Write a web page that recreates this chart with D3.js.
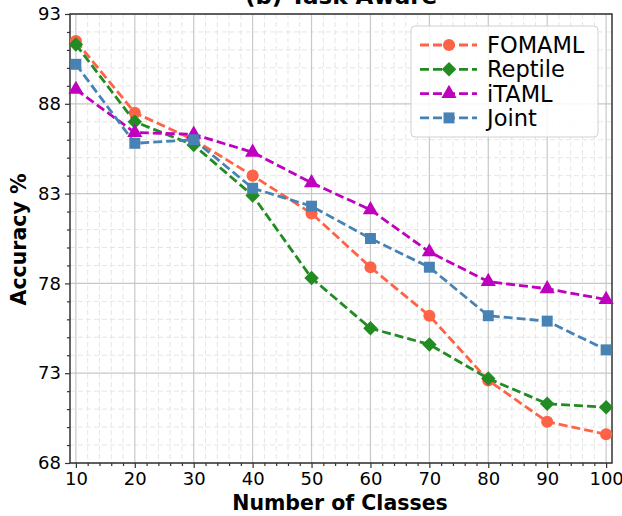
<!DOCTYPE html>
<html>
<head>
<meta charset="utf-8">
<script src="https://cdn.jsdelivr.net/npm/d3@7"></script>
<style>
  body { margin: 0; background: #fff; }
  text { font-family: "DejaVu Sans", sans-serif; }
</style>
</head>
<body>
<div id="chart"></div>
<script>
const classes = [10, 20, 30, 40, 50, 60, 70, 80, 90, 100];
const fomaml  = [91.5, 87.5, 86.0, 84.0, 81.9, 78.9, 76.2, 72.6, 70.3, 69.6];
const reptile = [91.3, 87.0, 85.7, 82.9, 78.3, 75.5, 74.6, 72.7, 71.3, 71.1];
const itaml   = [88.8, 86.4, 86.3, 85.3, 83.6, 82.1, 79.75, 78.1, 77.7, 77.1];
const joint   = [90.2, 85.8, 86.0, 83.3, 82.3, 80.5, 78.9, 76.2, 75.9, 74.3];
const yTicks = [68, 73, 78, 83, 88, 93];
const xTicks = [10, 20, 30, 40, 50, 60, 70, 80, 90, 100];

// rot: extra rotation for the marker (matplotlib "D" is a square turned 45deg)
const series = [
  {name: "FOMAML", values: fomaml, color: "#ff6347", shape: d3.symbolCircle, size: 115, rot: 0},
  {name: "Reptile", values: reptile, color: "#228b22", shape: d3.symbolSquare, size: 105, rot: 45},
  {name: "iTAML", values: itaml, color: "#bf00bf", shape: d3.symbolTriangle, size: 100, rot: 0},
  {name: "Joint", values: joint, color: "#4682b4", shape: d3.symbolSquare, size: 120, rot: 0}
];

const W = 622, H = 516;
const margin = {top: 14, right: 10, bottom: 53, left: 70};
const innerW = W - margin.left - margin.right,
      innerH = H - margin.top - margin.bottom;

const svg = d3.select("#chart").append("svg")
    .attr("width", W).attr("height", H);

const g = svg.append("g")
    .attr("transform", "translate(" + margin.left + "," + margin.top + ")");

const x = d3.scaleLinear().domain([9, 101]).range([0, innerW]);
const y = d3.scaleLinear().domain([68, 93]).range([innerH, 0]);

const xMinor = d3.range(10, 101, 2).filter(v => v % 10 !== 0);
const yMinor = d3.range(68, 94, 1).filter(v => !yTicks.includes(v));

// minor grid
g.append("g").selectAll("line").data(xMinor).join("line")
    .attr("x1", d => x(d)).attr("x2", d => x(d))
    .attr("y1", 0).attr("y2", innerH)
    .attr("stroke", "#e6e6e6").attr("stroke-width", 1).attr("stroke-dasharray", "5,3");
g.append("g").selectAll("line").data(yMinor).join("line")
    .attr("y1", d => y(d)).attr("y2", d => y(d))
    .attr("x1", 0).attr("x2", innerW)
    .attr("stroke", "#e6e6e6").attr("stroke-width", 1).attr("stroke-dasharray", "5,3");

// major grid
g.append("g").selectAll("line").data(xTicks).join("line")
    .attr("x1", d => x(d)).attr("x2", d => x(d))
    .attr("y1", 0).attr("y2", innerH)
    .attr("stroke", "#c8c8c8").attr("stroke-width", 1.2);
g.append("g").selectAll("line").data(yTicks).join("line")
    .attr("y1", d => y(d)).attr("y2", d => y(d))
    .attr("x1", 0).attr("x2", innerW)
    .attr("stroke", "#c8c8c8").attr("stroke-width", 1.2);

// axes
const xAxis = g.append("g").attr("transform", "translate(0," + innerH + ")")
    .call(d3.axisBottom(x).tickValues(xTicks).tickSize(5).tickPadding(4).tickSizeOuter(0));
const xAxisMinor = g.append("g").attr("transform", "translate(0," + innerH + ")")
    .call(d3.axisBottom(x).tickValues(xMinor).tickSize(3).tickFormat("").tickSizeOuter(0));
const yAxis = g.append("g")
    .call(d3.axisLeft(y).tickValues(yTicks).tickSize(5).tickPadding(4).tickSizeOuter(0));
const yAxisMinor = g.append("g")
    .call(d3.axisLeft(y).tickValues(yMinor).tickSize(3).tickFormat("").tickSizeOuter(0));

[xAxis, yAxis, xAxisMinor, yAxisMinor].forEach(a => {
  a.select(".domain").remove();
  a.selectAll("line").attr("stroke", "#333").attr("stroke-width", 1.2);
  a.selectAll("text").attr("font-size", 18).attr("fill", "#000")
    .style("font-family", "'DejaVu Sans', sans-serif");
});

// frame
g.append("rect").attr("width", innerW).attr("height", innerH)
    .attr("fill", "none").attr("stroke", "#333").attr("stroke-width", 1.5);

// lines and markers
const line = d3.line().x((d, i) => x(classes[i])).y(d => y(d));
series.forEach(s => {
  g.append("path").datum(s.values)
    .attr("fill", "none").attr("stroke", s.color)
    .attr("stroke-width", 2.8).attr("stroke-dasharray", "9,4")
    .attr("d", line);
  g.append("g").selectAll("path").data(s.values).join("path")
    .attr("transform", (d, i) => "translate(" + x(classes[i]) + "," + y(d) + ") rotate(" + s.rot + ")")
    .attr("d", d3.symbol().type(s.shape).size(s.size))
    .attr("fill", s.color);
});

// legend
const legend = g.append("g").attr("transform", "translate(341,12)");
legend.append("rect").attr("width", 187).attr("height", 111).attr("rx", 4)
    .attr("fill", "#fff").attr("fill-opacity", 0.85)
    .attr("stroke", "#d0d0d0").attr("stroke-width", 1);
series.forEach((s, i) => {
  const row = legend.append("g").attr("transform", "translate(0," + (19 + i * 24.3) + ")");
  row.append("line").attr("x1", 9).attr("x2", 66).attr("y1", 0).attr("y2", 0)
    .attr("stroke", s.color).attr("stroke-width", 2.8).attr("stroke-dasharray", "9,4");
  row.append("path").attr("transform", "translate(38,0) rotate(" + s.rot + ")")
    .attr("d", d3.symbol().type(s.shape).size(s.size)).attr("fill", s.color);
  row.append("text").attr("x", 76).attr("y", 8).attr("font-size", 22.5).text(s.name);
});

// labels
svg.append("text")
    .attr("x", margin.left + innerW / 2).attr("y", 4)
    .attr("text-anchor", "middle").attr("font-size", 23).attr("font-weight", "bold")
    .text("(b) Task Aware");
svg.append("text")
    .attr("x", margin.left + innerW / 2 - 1).attr("y", 510)
    .attr("text-anchor", "middle").attr("font-size", 20.5).attr("font-weight", "bold")
    .text("Number of Classes");
svg.append("text")
    .attr("transform", "translate(26," + (margin.top + innerH / 2 + 1) + ") rotate(-90)")
    .attr("text-anchor", "middle").attr("font-size", 20.5).attr("font-weight", "bold")
    .text("Accuracy %");
</script>
</body>
</html>
